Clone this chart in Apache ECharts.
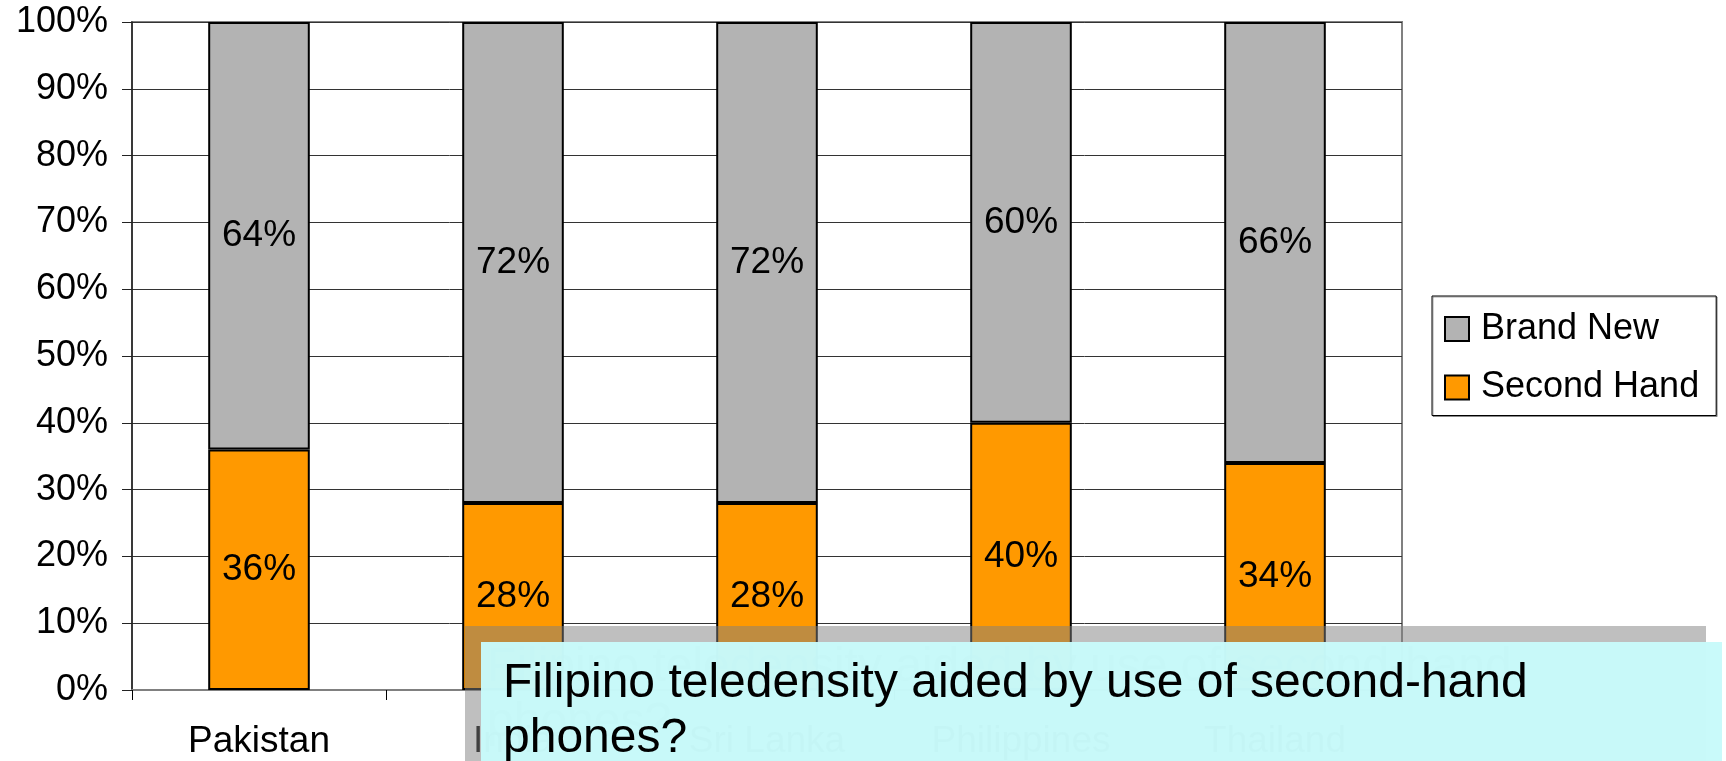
<!DOCTYPE html>
<html>
<head>
<meta charset="utf-8">
<script src="https://cdn.jsdelivr.net/npm/echarts@6/dist/echarts.min.js"></script>
<style>
html,body{margin:0;padding:0;background:#fff;}
#chart{width:1726px;height:761px;}
</style>
</head>
<body>
<div id="chart"></div>
<script>
var categories = ['Pakistan', 'India', 'Sri Lanka', 'Philippines', 'Thailand'];
var secondHand = [36, 28, 28, 40, 34];
var brandNew = [64, 72, 72, 60, 66];
var seriesNames = ['Brand New', 'Second Hand'];
var calloutLine1 = 'Filipino teledensity aided by use of second-hand';
var calloutLine2 = 'phones?';

var FONT = '"Liberation Sans", Arial, Helvetica, sans-serif';
var chart = echarts.init(document.getElementById('chart'));

var option = {
  backgroundColor: '#fff',
  animation: false,
  textStyle: { fontFamily: FONT },
  grid: {
    left: 132, right: 324, top: 22, bottom: 71,
    show: true, borderColor: '#808080', borderWidth: 2
  },
  legend: {
    data: seriesNames,
    orient: 'vertical',
    left: 1432, top: 296,
    padding: [15, 17, 10, 12],
    itemGap: 22.5,
    itemWidth: 24, itemHeight: 24,
    icon: 'rect',
    borderColor: '#000', borderWidth: 1,
    backgroundColor: '#fff',
    shadowColor: 'rgba(0,0,0,0.35)', shadowOffsetX: 1, shadowOffsetY: 1, shadowBlur: 0,
    itemStyle: { borderColor: '#000', borderWidth: 2 },
    textStyle: { fontSize: 36, color: '#000', fontFamily: FONT, padding: [0, 0, 0, 7] }
  },
  xAxis: {
    type: 'category',
    data: categories,
    axisLine: { show: true, lineStyle: { color: '#808080', width: 2 } },
    axisTick: { show: true, length: 10, lineStyle: { color: '#000', width: 1 } },
    axisLabel: { fontSize: 37, color: '#000', margin: 33, fontFamily: FONT },
    splitLine: { show: false }
  },
  yAxis: {
    type: 'value',
    min: 0, max: 100, interval: 10,
    axisLine: { show: true, lineStyle: { color: '#222', width: 1.5 } },
    axisTick: { show: true, length: 10, lineStyle: { color: '#222', width: 1 } },
    axisLabel: { fontSize: 36, color: '#000', margin: 24, formatter: '{value}%', fontFamily: FONT },
    splitLine: { show: true, lineStyle: { color: '#333', width: 1 } }
  },
  series: [
    {
      name: 'Second Hand',
      type: 'bar',
      stack: 'total',
      barWidth: '40%',
      data: secondHand,
      itemStyle: { color: '#FF9900', borderColor: '#000', borderWidth: 2 },
      label: { show: true, position: 'inside', formatter: '{c}%', fontSize: 37, color: '#000', fontFamily: FONT }
    },
    {
      name: 'Brand New',
      type: 'bar',
      stack: 'total',
      barWidth: '40%',
      data: brandNew,
      itemStyle: { color: '#B3B3B3', borderColor: '#000', borderWidth: 2 },
      label: { show: true, position: 'inside', formatter: '{c}%', fontSize: 37, color: '#000', fontFamily: FONT }
    }
  ],
  graphic: [
    {
      type: 'rect', z: 100, silent: true,
      shape: { x: 465, y: 626, width: 1241, height: 160 },
      style: { fill: 'rgba(128,128,128,0.5)' }
    },
    {
      type: 'text', z: 101, silent: true,
      style: { text: calloutLine1, x: 487, y: 668, fill: 'rgba(0,0,0,0.35)', font: '48px ' + FONT, verticalAlign: 'middle', align: 'left' }
    },
    {
      type: 'text', z: 101, silent: true,
      style: { text: calloutLine2, x: 487, y: 723, fill: 'rgba(0,0,0,0.35)', font: '48px ' + FONT, verticalAlign: 'middle', align: 'left' }
    },
    {
      type: 'rect', z: 102, silent: true,
      shape: { x: 481, y: 642, width: 1241, height: 160 },
      style: { fill: 'rgba(200,250,250,0.975)' }
    },
    {
      type: 'text', z: 103, silent: true,
      style: { text: calloutLine1, x: 503, y: 684, fill: '#000', font: '48px ' + FONT, verticalAlign: 'middle', align: 'left' }
    },
    {
      type: 'text', z: 103, silent: true,
      style: { text: calloutLine2, x: 503, y: 739, fill: '#000', font: '48px ' + FONT, verticalAlign: 'middle', align: 'left' }
    }
  ]
};
chart.setOption(option);
</script>
</body>
</html>
